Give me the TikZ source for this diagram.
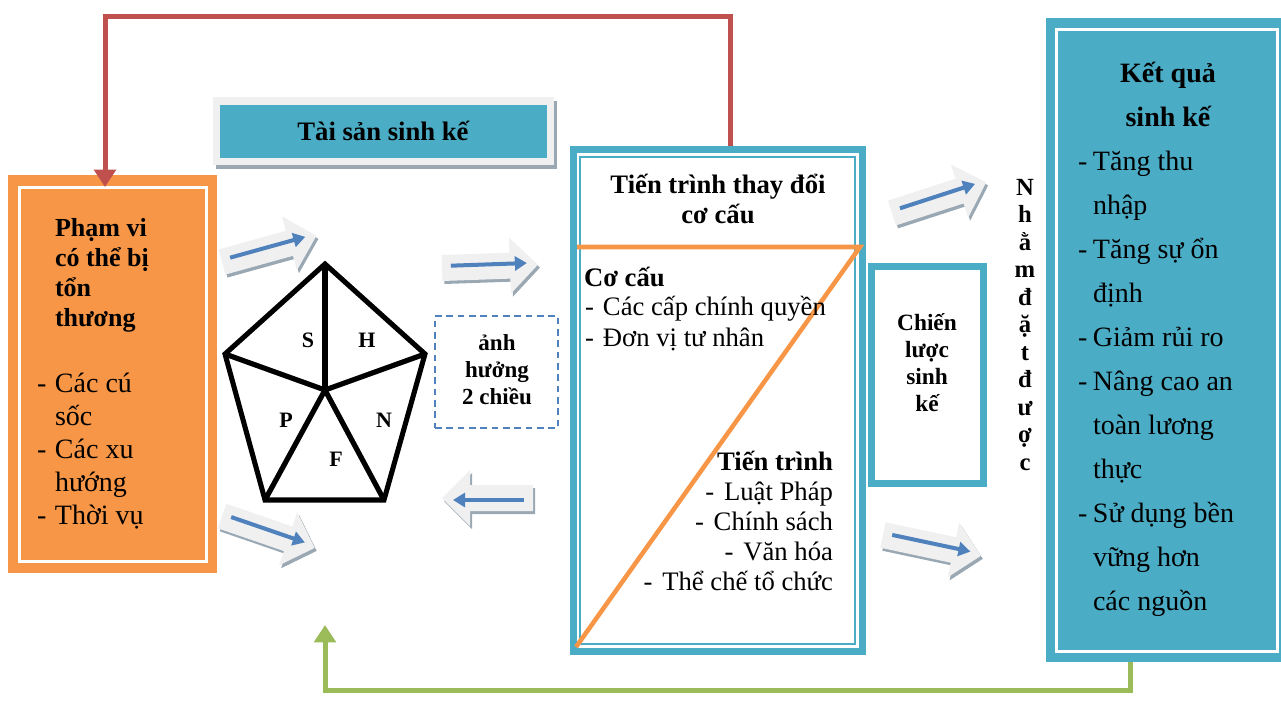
\documentclass[tikz,border=0pt]{standalone}
\usepackage{fontspec}
\setmainfont{Liberation Serif}
\usetikzlibrary{arrows.meta,calc,fit}

\definecolor{tealbox}{HTML}{4BACC6}
\definecolor{orangebox}{HTML}{F79646}
\definecolor{redconn}{HTML}{C0504D}
\definecolor{greenconn}{HTML}{9BBB59}
\definecolor{bluearrow}{HTML}{4F81BD}
\definecolor{paleshape}{HTML}{F0F0F0}
\definecolor{shadegrey}{HTML}{9AA8B4}

\newcommand\fs[1]{\fontsize{#1}{#1}\selectfont}

% block arrow: x, y (tail centre), angle, length
\newcommand\fatarrow[4]{%
  \begin{scope}[shift={(#1+2,#2+3)},rotate=#3]
    \fill[shadegrey] (0,-13) -- (#4-28,-13) -- (#4-28,-28) -- (#4,0) -- (#4-28,28) -- (#4-28,13) -- (0,13) -- cycle;
  \end{scope}
  \begin{scope}[shift={(#1,#2)},rotate=#3]
    \fill[paleshape] (0,-13) -- (#4-28,-13) -- (#4-28,-28) -- (#4,0) -- (#4-28,28) -- (#4-28,13) -- (0,13) -- cycle;
    \draw[bluearrow, line width=3pt, -{Triangle[length=9pt,width=10.5pt]}] (9,-2) -- (#4-11,-2);
  \end{scope}}

\begin{document}
\begin{tikzpicture}[x=0.75pt,y=-0.75pt,
  txt/.style={inner sep=0pt, outer sep=0pt},
  band/.style={draw=tealbox, line width=5.25pt, inner sep=0pt},
  conn/.style={line width=3.75pt},
  spoke/.style={line width=3.8pt, line join=miter},
  spokeshade/.style={line width=3.8pt, draw=black!40}]
\useasboundingbox (0,0) rectangle (1281,704);

% ---- vulnerability box (left, orange)
\node[fit={(8,175)(217,573)}, inner sep=0pt, fill=orangebox] (vul) {};
\draw[white, line width=2.25pt] (19,187) rectangle (206,561);
\foreach \t [count=\i from 0] in {Phạm vi, có thể bị, tổn, thương}
  \node[txt, anchor=base west, font=\bfseries\fs{19.5}] (vt\i) at (55,{236+30.3*\i}) {\t};
\foreach \t [count=\i from 0] in {{\makebox[13.5pt][l]{-}Các cú},{\hspace*{13.5pt}sốc},{\makebox[13.5pt][l]{-}Các xu},{\hspace*{13.5pt}hướng},{\makebox[13.5pt][l]{-}Thời vụ}}
  \node[txt, anchor=base west, font=\fs{21}] (vb\i) at (37,{392+33.2*\i}) {\t};

% ---- assets banner
\fill[shadegrey] (216,101) rectangle (557,169);
\fill[paleshape] (213,97) rectangle (554,165);
\node[fit={(220,105)(547,158)}, inner sep=0pt, fill=tealbox] (assets) {};
\node[txt, anchor=base, font=\bfseries\fs{20}] (assetstxt) at (383,140) {Tài sản sinh kế};

% ---- asset pentagon
\coordinate (pT) at (325,264);
\coordinate (pL) at (225,354);
\coordinate (pR) at (425,354);
\coordinate (pBL) at (265,500);
\coordinate (pBR) at (384,500);
\coordinate (pC) at (325,390);
\begin{scope}[shift={(2,3)}]
  \draw[spokeshade] (pL) -- (pC) -- (pR);
  \draw[spokeshade] (pBL) -- (pC) -- (pBR);
\end{scope}
\draw[spoke] (pT) -- (pR) -- (pBR) -- (pBL) -- (pL) -- cycle;
\draw[spoke] (pC) -- (pT);
\draw[spoke] (pL) -- (pC) -- (pR);
\draw[spoke] (pBL) -- (pC) -- (pBR);
\node[txt, font=\bfseries\fs{16.5}] (capS) at (308,340) {S};
\node[txt, font=\bfseries\fs{16.5}] (capH) at (367,340) {H};
\node[txt, font=\bfseries\fs{16.5}] (capP) at (286,420) {P};
\node[txt, font=\bfseries\fs{16.5}] (capN) at (384,420) {N};
\node[txt, font=\bfseries\fs{16.5}] (capF) at (336,459) {F};

% ---- two-way influence box
\node[fit={(435,316)(558,428)}, inner sep=0pt, draw=bluearrow, line width=1.5pt, dash pattern=on 5pt off 3.5pt] (twoway) {};
\foreach \t [count=\i from 0] in {ảnh, hưởng, 2 chiều}
  \node[txt, anchor=base, font=\bfseries\fs{17.25}] (tw\i) at (497,{350+27*\i}) {\t};

% ---- block arrows
\fatarrow{222}{262}{15.5}{98}
\fatarrow{442}{268}{2}{96}
\fatarrow{533}{498}{180}{91}
\fatarrow{222}{516}{-19}{98}
\fatarrow{892}{213}{18}{99}
\fatarrow{883}{535}{-12}{100}

% ---- transforming structures and processes
\node[fit={(573.5,149.5)(862.5,651.5)}, band] (mid) {};
\draw[tealbox, line width=1.2pt] (580,157) rectangle (855,644);
\draw[orangebox, line width=3.4pt] (577,247) -- (860,247) -- (576,647);
\node[txt, anchor=base, font=\bfseries\fs{20}] (midt1) at (718,193) {Tiến trình thay đổi};
\node[txt, anchor=base, font=\bfseries\fs{20}] (midt2) at (718,223) {cơ cấu};
\node[txt, anchor=base west, font=\bfseries\fs{20}] (struct) at (584,286) {Cơ cấu};
\node[txt, anchor=base west, font=\fs{20}] (st1) at (585,315) {\makebox[13.5pt][l]{-}Các cấp chính quyền};
\node[txt, anchor=base west, font=\fs{20}] (st2) at (585,346) {\makebox[13.5pt][l]{-}Đơn vị tư nhân};
\node[txt, anchor=base east, font=\bfseries\fs{20}] (proc) at (833,470) {Tiến trình};
\foreach \t [count=\i from 0] in {Luật Pháp, Chính sách, Văn hóa, Thể chế tổ chức}
  \node[txt, anchor=base east, font=\fs{20}] (pr\i) at (833,{500+30.3*\i}) {\makebox[14pt][l]{-}\t};

% ---- livelihood strategies
\node[fit={(871.5,266.5)(983.5,483.5)}, band] (strat) {};
\foreach \t [count=\i from 0] in {Chiến, lược, sinh, kế}
  \node[txt, anchor=base, font=\bfseries\fs{17.5}] (sg\i) at (927,{330+27*\i}) {\t};

% ---- vertical caption
\foreach \t [count=\i from 0] in {N,h,ằ,m,đ,ặ,t,đ,ư,ợ,c}
  \node[txt, anchor=base, font=\bfseries\fs{18.5}] (vc\i) at (1025,{195+27.5*\i}) {\t};

% ---- livelihood outcomes
\node[fit={(1046,18)(1290,662)}, inner sep=0pt, fill=tealbox] (res) {};
\draw[white, line width=2.25pt] (1056,29) rectangle (1277,651);
\node[txt, anchor=base, font=\bfseries\fs{21}] (rest1) at (1168,82) {Kết quả};
\node[txt, anchor=base, font=\bfseries\fs{21}] (rest2) at (1168,126) {sinh kế};
\foreach \t [count=\i from 0] in {{\makebox[11.25pt][l]{-}Tăng thu},{\hspace*{11.25pt}nhập},{\makebox[11.25pt][l]{-}Tăng sự ổn},{\hspace*{11.25pt}định},{\makebox[11.25pt][l]{-}Giảm rủi ro},{\makebox[11.25pt][l]{-}Nâng cao an},{\hspace*{11.25pt}toàn lương},{\hspace*{11.25pt}thực},{\makebox[11.25pt][l]{-}Sử dụng bền},{\hspace*{11.25pt}vững hơn},{\hspace*{11.25pt}các nguồn}}
  \node[txt, anchor=base west, font=\fs{21}] (ri\i) at (1078,{170+44*\i}) {\t};

% ---- feedback connectors
\coordinate (redtop) at (730,16);
\coordinate (redin) at (105,187);
\draw[conn, redconn, -{Triangle[length=13pt,width=16pt]}] (mid.north -| redtop) -- (redtop) -| (redin);
\coordinate (grnbot) at (1130,690);
\coordinate (grnin) at (325,625);
\draw[conn, greenconn, -{Triangle[length=13pt,width=16pt]}] (res.south -| grnbot) -- (grnbot) -| (grnin);
\end{tikzpicture}
\end{document}
